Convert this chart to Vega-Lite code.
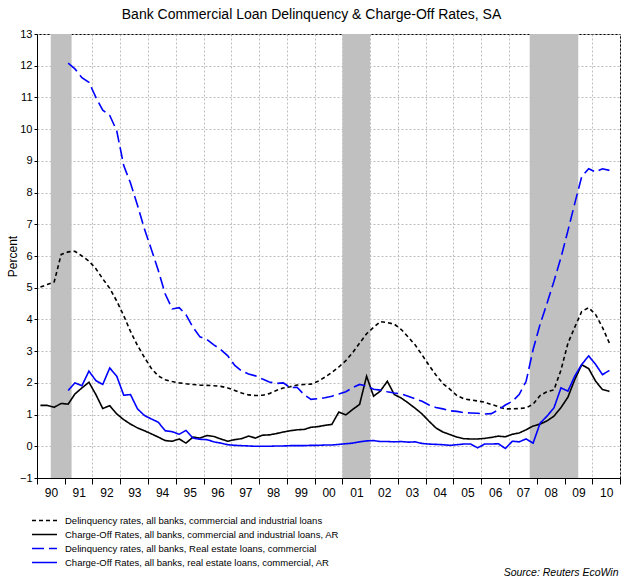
{
  "$schema": "https://vega.github.io/schema/vega-lite/v6.json",
  "width": 583,
  "height": 444,
  "autosize": {"type": "none"},
  "padding": {"left": 37, "top": 34, "right": 1, "bottom": 99},
  "background": "white",
  "title": {"text": "Bank Commercial Loan Delinquency & Charge-Off Rates, SA", "font": "Liberation Sans", "fontSize": 14, "fontWeight": "normal", "color": "black", "anchor": "middle", "dx": -17, "offset": 6},
  "config": {
    "view": {"stroke": "black", "strokeWidth": 1},
    "font": "Liberation Sans",
    "axisX": {
      "tickCount": {"interval": "year", "step": 1},
      "labelExpr": "utcyear(datum.value) < 2011 ? utcFormat(datum.value, '%y') : ''",
      "labelOffset": 14, "labelFlush": false, "labelOverlap": false, "labelBound": false,
      "labelFontSize": 12, "labelPadding": 3, "labelColor": "black",
      "tickSize": 6, "tickColor": "black", "domainColor": "black",
      "grid": true, "gridColor": "#bdbdbd", "gridDash": [2, 2],
      "titleX": 581, "titleY": 94, "titleAlign": "right", "titleAnchor": null, "titleBaseline": "middle",
      "titleFontStyle": "italic", "titleFontWeight": "normal", "titleFontSize": 10.5, "titleColor": "black"
    },
    "axisY": {
      "values": [-1, 0, 1, 2, 3, 4, 5, 6, 7, 8, 9, 10, 11, 12, 13],
      "labelOverlap": false, "labelBound": false, "labelFlush": false,
      "labelFontSize": 11, "labelPadding": 2, "labelColor": "black",
      "tickSize": 3, "tickColor": "black", "domainColor": "black",
      "grid": true, "gridColor": "#bdbdbd", "gridDash": [2, 2],
      "titleFontWeight": "normal", "titleFontSize": 12, "titleColor": "black",
      "titleX": -21, "titleY": 222, "titleAngle": -90, "titleBaseline": "alphabetic", "titleAnchor": null, "titleAlign": "center"
    }
  },
  "datasets": {
    "recessions": [
      {"start": "1990-07-01", "end": "1991-04-01"},
      {"start": "2001-01-01", "end": "2002-01-01"},
      {"start": "2007-10-01", "end": "2009-07-01"}
    ],
    "rates": [
      {"q": "1990-02-15", "dq_ci": 5.02, "co_ci": 1.29, "dq_re": null, "co_re": null},
      {"q": "1990-05-15", "dq_ci": 5.10, "co_ci": 1.29, "dq_re": null, "co_re": null},
      {"q": "1990-08-15", "dq_ci": 5.18, "co_ci": 1.23, "dq_re": null, "co_re": null},
      {"q": "1990-11-15", "dq_ci": 6.05, "co_ci": 1.35, "dq_re": null, "co_re": null},
      {"q": "1991-02-15", "dq_ci": 6.13, "co_ci": 1.33, "dq_re": 12.08, "co_re": 1.76},
      {"q": "1991-05-15", "dq_ci": 6.15, "co_ci": 1.65, "dq_re": 11.90, "co_re": 2.00},
      {"q": "1991-08-15", "dq_ci": 6.00, "co_ci": 1.84, "dq_re": 11.62, "co_re": 1.91},
      {"q": "1991-11-15", "dq_ci": 5.84, "co_ci": 2.02, "dq_re": 11.48, "co_re": 2.37},
      {"q": "1992-02-15", "dq_ci": 5.60, "co_ci": 1.63, "dq_re": 11.00, "co_re": 2.07},
      {"q": "1992-05-15", "dq_ci": 5.28, "co_ci": 1.19, "dq_re": 10.60, "co_re": 1.95},
      {"q": "1992-08-15", "dq_ci": 4.98, "co_ci": 1.28, "dq_re": 10.43, "co_re": 2.47},
      {"q": "1992-11-15", "dq_ci": 4.58, "co_ci": 1.02, "dq_re": 9.95, "co_re": 2.21},
      {"q": "1993-02-15", "dq_ci": 4.12, "co_ci": 0.84, "dq_re": 8.85, "co_re": 1.61},
      {"q": "1993-05-15", "dq_ci": 3.62, "co_ci": 0.70, "dq_re": 8.30, "co_re": 1.63},
      {"q": "1993-08-15", "dq_ci": 3.18, "co_ci": 0.58, "dq_re": 7.60, "co_re": 1.18},
      {"q": "1993-11-15", "dq_ci": 2.80, "co_ci": 0.49, "dq_re": 6.85, "co_re": 0.97},
      {"q": "1994-02-15", "dq_ci": 2.45, "co_ci": 0.39, "dq_re": 6.20, "co_re": 0.86},
      {"q": "1994-05-15", "dq_ci": 2.22, "co_ci": 0.29, "dq_re": 5.55, "co_re": 0.76},
      {"q": "1994-08-15", "dq_ci": 2.10, "co_ci": 0.18, "dq_re": 4.80, "co_re": 0.49},
      {"q": "1994-11-15", "dq_ci": 2.04, "co_ci": 0.16, "dq_re": 4.33, "co_re": 0.46},
      {"q": "1995-02-15", "dq_ci": 2.00, "co_ci": 0.23, "dq_re": 4.37, "co_re": 0.38},
      {"q": "1995-05-15", "dq_ci": 1.97, "co_ci": 0.10, "dq_re": 4.15, "co_re": 0.50},
      {"q": "1995-08-15", "dq_ci": 1.95, "co_ci": 0.29, "dq_re": 3.75, "co_re": 0.26},
      {"q": "1995-11-15", "dq_ci": 1.93, "co_ci": 0.26, "dq_re": 3.45, "co_re": 0.22},
      {"q": "1996-02-15", "dq_ci": 1.92, "co_ci": 0.34, "dq_re": 3.37, "co_re": 0.21},
      {"q": "1996-05-15", "dq_ci": 1.91, "co_ci": 0.31, "dq_re": 3.20, "co_re": 0.14},
      {"q": "1996-08-15", "dq_ci": 1.89, "co_ci": 0.23, "dq_re": 3.05, "co_re": 0.10},
      {"q": "1996-11-15", "dq_ci": 1.84, "co_ci": 0.16, "dq_re": 2.85, "co_re": 0.05},
      {"q": "1997-02-15", "dq_ci": 1.76, "co_ci": 0.21, "dq_re": 2.55, "co_re": 0.03},
      {"q": "1997-05-15", "dq_ci": 1.68, "co_ci": 0.24, "dq_re": 2.38, "co_re": 0.02},
      {"q": "1997-08-15", "dq_ci": 1.62, "co_ci": 0.32, "dq_re": 2.28, "co_re": 0.01},
      {"q": "1997-11-15", "dq_ci": 1.60, "co_ci": 0.26, "dq_re": 2.22, "co_re": 0.00},
      {"q": "1998-02-15", "dq_ci": 1.61, "co_ci": 0.35, "dq_re": 2.12, "co_re": 0.00},
      {"q": "1998-05-15", "dq_ci": 1.66, "co_ci": 0.36, "dq_re": 2.03, "co_re": 0.00},
      {"q": "1998-08-15", "dq_ci": 1.76, "co_ci": 0.40, "dq_re": 1.98, "co_re": 0.01},
      {"q": "1998-11-15", "dq_ci": 1.84, "co_ci": 0.45, "dq_re": 2.00, "co_re": 0.01},
      {"q": "1999-02-15", "dq_ci": 1.88, "co_ci": 0.49, "dq_re": 1.85, "co_re": 0.02},
      {"q": "1999-05-15", "dq_ci": 1.93, "co_ci": 0.52, "dq_re": 1.86, "co_re": 0.02},
      {"q": "1999-08-15", "dq_ci": 1.95, "co_ci": 0.53, "dq_re": 1.63, "co_re": 0.02},
      {"q": "1999-11-15", "dq_ci": 1.96, "co_ci": 0.60, "dq_re": 1.48, "co_re": 0.03},
      {"q": "2000-02-15", "dq_ci": 2.05, "co_ci": 0.62, "dq_re": 1.50, "co_re": 0.03},
      {"q": "2000-05-15", "dq_ci": 2.18, "co_ci": 0.66, "dq_re": 1.53, "co_re": 0.04},
      {"q": "2000-08-15", "dq_ci": 2.33, "co_ci": 0.69, "dq_re": 1.58, "co_re": 0.04},
      {"q": "2000-11-15", "dq_ci": 2.50, "co_ci": 1.08, "dq_re": 1.65, "co_re": 0.06},
      {"q": "2001-02-15", "dq_ci": 2.70, "co_ci": 0.99, "dq_re": 1.72, "co_re": 0.08},
      {"q": "2001-05-15", "dq_ci": 2.95, "co_ci": 1.16, "dq_re": 1.85, "co_re": 0.10},
      {"q": "2001-08-15", "dq_ci": 3.25, "co_ci": 1.32, "dq_re": 1.95, "co_re": 0.14},
      {"q": "2001-11-15", "dq_ci": 3.55, "co_ci": 2.21, "dq_re": 1.90, "co_re": 0.17},
      {"q": "2002-02-15", "dq_ci": 3.75, "co_ci": 1.58, "dq_re": 1.80, "co_re": 0.18},
      {"q": "2002-05-15", "dq_ci": 3.93, "co_ci": 1.74, "dq_re": 1.77, "co_re": 0.15},
      {"q": "2002-08-15", "dq_ci": 3.90, "co_ci": 2.05, "dq_re": 1.72, "co_re": 0.15},
      {"q": "2002-11-15", "dq_ci": 3.85, "co_ci": 1.63, "dq_re": 1.68, "co_re": 0.14},
      {"q": "2003-02-15", "dq_ci": 3.68, "co_ci": 1.52, "dq_re": 1.65, "co_re": 0.15},
      {"q": "2003-05-15", "dq_ci": 3.45, "co_ci": 1.37, "dq_re": 1.58, "co_re": 0.13},
      {"q": "2003-08-15", "dq_ci": 3.20, "co_ci": 1.20, "dq_re": 1.50, "co_re": 0.14},
      {"q": "2003-11-15", "dq_ci": 2.88, "co_ci": 1.02, "dq_re": 1.42, "co_re": 0.09},
      {"q": "2004-02-15", "dq_ci": 2.55, "co_ci": 0.79, "dq_re": 1.30, "co_re": 0.07},
      {"q": "2004-05-15", "dq_ci": 2.25, "co_ci": 0.58, "dq_re": 1.22, "co_re": 0.06},
      {"q": "2004-08-15", "dq_ci": 1.98, "co_ci": 0.45, "dq_re": 1.18, "co_re": 0.05},
      {"q": "2004-11-15", "dq_ci": 1.80, "co_ci": 0.37, "dq_re": 1.12, "co_re": 0.03},
      {"q": "2005-02-15", "dq_ci": 1.60, "co_ci": 0.29, "dq_re": 1.10, "co_re": 0.05},
      {"q": "2005-05-15", "dq_ci": 1.50, "co_ci": 0.24, "dq_re": 1.06, "co_re": 0.07},
      {"q": "2005-08-15", "dq_ci": 1.46, "co_ci": 0.23, "dq_re": 1.05, "co_re": 0.07},
      {"q": "2005-11-15", "dq_ci": 1.43, "co_ci": 0.23, "dq_re": 1.04, "co_re": -0.05},
      {"q": "2006-02-15", "dq_ci": 1.39, "co_ci": 0.25, "dq_re": 1.02, "co_re": 0.07},
      {"q": "2006-05-15", "dq_ci": 1.32, "co_ci": 0.28, "dq_re": 1.03, "co_re": 0.07},
      {"q": "2006-08-15", "dq_ci": 1.25, "co_ci": 0.32, "dq_re": 1.15, "co_re": 0.08},
      {"q": "2006-11-15", "dq_ci": 1.18, "co_ci": 0.30, "dq_re": 1.30, "co_re": -0.07},
      {"q": "2007-02-15", "dq_ci": 1.18, "co_ci": 0.38, "dq_re": 1.42, "co_re": 0.16},
      {"q": "2007-05-15", "dq_ci": 1.19, "co_ci": 0.42, "dq_re": 1.63, "co_re": 0.14},
      {"q": "2007-08-15", "dq_ci": 1.21, "co_ci": 0.52, "dq_re": 2.05, "co_re": 0.23},
      {"q": "2007-11-15", "dq_ci": 1.33, "co_ci": 0.64, "dq_re": 3.05, "co_re": 0.10},
      {"q": "2008-02-15", "dq_ci": 1.60, "co_ci": 0.70, "dq_re": 3.85, "co_re": 0.73},
      {"q": "2008-05-15", "dq_ci": 1.72, "co_ci": 0.80, "dq_re": 4.50, "co_re": 0.95},
      {"q": "2008-08-15", "dq_ci": 1.78, "co_ci": 0.95, "dq_re": 5.20, "co_re": 1.21},
      {"q": "2008-11-15", "dq_ci": 2.40, "co_ci": 1.22, "dq_re": 5.95, "co_re": 1.84},
      {"q": "2009-02-15", "dq_ci": 3.25, "co_ci": 1.55, "dq_re": 6.80, "co_re": 1.74},
      {"q": "2009-05-15", "dq_ci": 3.75, "co_ci": 2.10, "dq_re": 7.65, "co_re": 2.21},
      {"q": "2009-08-15", "dq_ci": 4.25, "co_ci": 2.57, "dq_re": 8.50, "co_re": 2.58},
      {"q": "2009-11-15", "dq_ci": 4.37, "co_ci": 2.45, "dq_re": 8.75, "co_re": 2.85},
      {"q": "2010-02-15", "dq_ci": 4.15, "co_ci": 2.05, "dq_re": 8.65, "co_re": 2.58},
      {"q": "2010-05-15", "dq_ci": 3.75, "co_ci": 1.79, "dq_re": 8.75, "co_re": 2.26},
      {"q": "2010-08-15", "dq_ci": 3.25, "co_ci": 1.73, "dq_re": 8.70, "co_re": 2.39}
    ]
  },
  "layer": [
    {
      "data": {"name": "recessions"},
      "mark": {"type": "rect", "color": "#c0c0c0"},
      "encoding": {
        "x": {
          "field": "start", "type": "temporal", "title": "Source: Reuters EcoWin",
          "scale": {"type": "utc", "domain": [{"year": 1990, "utc": true}, {"year": 2011, "utc": true}]}
        },
        "x2": {"field": "end"},
        "y": {
          "datum": 13, "type": "quantitative", "title": "Percent",
          "scale": {"domain": [-1, 13], "nice": false, "zero": false},
          "axis": {"values": [-1, 0, 1, 2, 3, 4, 5, 6, 7, 8, 9, 10, 11, 12, 13]}
        },
        "y2": {"datum": -1}
      }
    },
    {
      "data": {"name": "rates"},
      "transform": [{"fold": ["dq_ci", "co_ci", "dq_re", "co_re"], "as": ["series", "value"]}],
      "mark": {"type": "line", "strokeWidth": 1.6},
      "encoding": {
        "x": {"field": "q", "type": "temporal", "title": "Source: Reuters EcoWin"},
        "y": {
          "field": "value", "type": "quantitative", "title": "Percent",
          "axis": {"values": [-1, 0, 1, 2, 3, 4, 5, 6, 7, 8, 9, 10, 11, 12, 13]}
        },
        "color": {
          "field": "series", "type": "nominal",
          "scale": {"domain": ["dq_ci", "co_ci", "dq_re", "co_re"], "range": ["#000000", "#000000", "#0000ff", "#0000ff"]},
          "legend": {
            "orient": "none", "legendX": -6, "legendY": 480, "direction": "vertical", "title": null,
            "symbolType": "stroke", "symbolSize": 625, "symbolStrokeWidth": 1.6, "clipHeight": 13, "rowPadding": 1,
            "labelOffset": 7, "labelFontSize": 9.5, "labelLimit": 0, "padding": 0, "labelColor": "black",
            "labelExpr": "datum.label == 'dq_ci' ? 'Delinquency rates, all banks, commercial and industrial loans' : datum.label == 'co_ci' ? 'Charge-Off Rates, all banks, commercial and industrial loans, AR' : datum.label == 'dq_re' ? 'Delinquency rates, all banks, Real estate loans, commercial' : 'Charge-Off Rates, all banks, real estate loans, commercial, AR'"
          }
        },
        "strokeDash": {
          "field": "series", "type": "nominal",
          "scale": {"domain": ["dq_ci", "co_ci", "dq_re", "co_re"], "range": [[4, 3], [1, 0], [12, 5], [1, 0]]}
        }
      }
    }
  ]
}
